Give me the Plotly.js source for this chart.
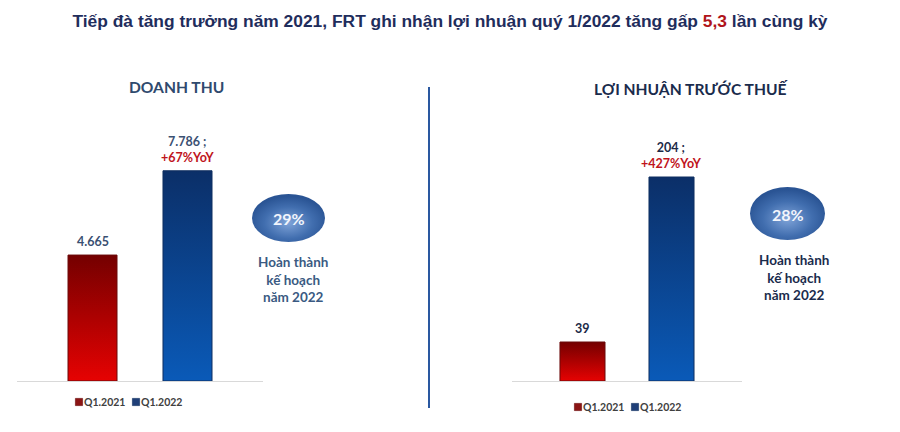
<!DOCTYPE html>
<html>
<head>
<meta charset="utf-8">
<script src="https://cdn.plot.ly/plotly-3.0.1.min.js"></script>
<style>
  html, body { margin: 0; padding: 0; background: #ffffff; }
  #chart { width: 900px; height: 432px; }
</style>
</head>
<body>
<div id="chart"></div>
<script>
// ---------- data ----------
const periods = ['Q1.2021', 'Q1.2022'];
const revenue = [4665, 7786];          // Doanh thu (tỷ đồng)
const profit = [39, 204];              // Lợi nhuận trước thuế (tỷ đồng)
const revenueYoY = ['', '+67%YoY'];
const profitYoY = ['', '+427%YoY'];
const planDone = [29, 28];             // % hoàn thành kế hoạch năm 2022
const chartTitles = ['DOANH THU', 'LỢI NHUẬN TRƯỚC THUẾ'];
const planText = 'Hoàn thành<br>kế hoạch<br>năm 2022';

// ---------- styling ----------
const RED = '#8b1414', BLUE = '#1f3f78';
const FONT = 'Lato, "Liberation Sans", sans-serif';

function fmt(v) {
  return String(v).replace(/\B(?=(\d{3})+(?!\d))/g, '.');
}

const traces = [];
[['x', 'y', 'legend', revenue, 0.516], ['x2', 'y2', 'legend2', profit, 0.506]].forEach(function (cfg) {
  periods.forEach(function (p, i) {
    traces.push({
      type: 'bar',
      x: [p],
      y: [cfg[3][i]],
      name: p,
      xaxis: cfg[0],
      yaxis: cfg[1],
      legend: cfg[2],
      width: cfg[4],
      marker: { color: i === 0 ? RED : BLUE, line: { color: i === 0 ? '#6a0a0a' : '#0f2f60', width: 1 } },
      hoverinfo: 'skip'
    });
  });
});

const annotations = [];
// value labels
[[revenue, revenueYoY, 'x', 'y', '#3a5072'], [profit, profitYoY, 'x2', 'y2', '#1c2a48']].forEach(function (cfg) {
  periods.forEach(function (p, i) {
    let t = fmt(cfg[0][i]);
    if (cfg[1][i]) t += ' ;<br><span style="color:#c0141c">' + cfg[1][i] + '</span>';
    annotations.push({
      xref: cfg[2], yref: cfg[3], x: p, y: cfg[0][i], xanchor: 'center',
      text: t, showarrow: false, yanchor: 'bottom', yshift: 4,
      font: { family: FONT, size: 12.5, color: cfg[4], weight: 'bold' }
    });
  });
});
function paperText(x, y, text, size, color) {
  annotations.push({ xref: 'paper', yref: 'paper', x: x, y: y, xanchor: 'center', yanchor: 'middle',
    text: text, showarrow: false, font: { family: FONT, size: size, color: color, weight: 'bold' } });
}
// chart titles
paperText(176 / 900, 1 - 86.7 / 432, chartTitles[0], 15.6, '#2f4a6e');
paperText(691.5 / 900, 1 - 89.3 / 432, chartTitles[1], 15.6, '#1a2b4c');
// plan completion badges
paperText(288.5 / 900, 1 - 218 / 432, planDone[0] + '%', 16, '#f2f5fc');
paperText(787.5 / 900, 1 - 214 / 432, planDone[1] + '%', 16, '#f2f5fc');
paperText(293 / 900, 1 - 279.3 / 432, planText, 13.5, '#3a5a82');
paperText(793.5 / 900, 1 - 277.3 / 432, planText, 13.5, '#1a2b4c');

const ELL = '#3a66a9';
const shapes = [
  { type: 'circle', xref: 'paper', yref: 'paper', x0: 252 / 900, x1: 325 / 900, y0: 1 - 242 / 432, y1: 1 - 194 / 432,
    fillcolor: ELL, line: { width: 0 }, layer: 'below' },
  { type: 'circle', xref: 'paper', yref: 'paper', x0: 750 / 900, x1: 825 / 900, y0: 1 - 240 / 432, y1: 1 - 187 / 432,
    fillcolor: ELL, line: { width: 0 }, layer: 'below' },
  { type: 'line', xref: 'paper', yref: 'paper', x0: 429 / 900, x1: 429 / 900, y0: 1 - 408 / 432, y1: 1 - 87 / 432,
    line: { color: '#2a58a0', width: 2 } }
];

const baseAxis = {
  type: 'category', showline: true, linecolor: '#d9d9d9', linewidth: 1,
  showticklabels: false, ticks: '', showgrid: false, zeroline: false, fixedrange: true
};
const baseY = { visible: false, showgrid: false, zeroline: false, fixedrange: true, domain: [1 - 381 / 432, 1 - 60 / 432] };
const legendBase = {
  orientation: 'h', xanchor: 'left', yanchor: 'middle', bgcolor: 'rgba(0,0,0,0)',
  font: { family: FONT, size: 10.5, color: '#404040', weight: 'bold' }, traceorder: 'normal',
  entrywidth: 12, entrywidthmode: 'pixels',
  itemclick: false, itemdoubleclick: false
};

const layout = {
  width: 900, height: 432,
  margin: { l: 0, r: 0, t: 0, b: 0 },
  paper_bgcolor: '#ffffff', plot_bgcolor: 'rgba(0,0,0,0)',
  barmode: 'overlay',
  title: {
    text: 'Tiếp đà tăng trưởng năm 2021, FRT ghi nhận lợi nhuận quý 1/2022 tăng gấp <span style="color:#b0141a">5,3</span> lần cùng kỳ',
    x: 0.5, xanchor: 'center', y: 1 - 21 / 432, yanchor: 'middle',
    font: { family: '"Liberation Sans", Arial, sans-serif', size: 17.4, color: '#1f2d5c', weight: 'bold' }
  },
  xaxis: Object.assign({}, baseAxis, { domain: [17 / 900, 263 / 900], range: [-0.795, 1.795], anchor: 'y' }),
  yaxis: Object.assign({}, baseY, { range: [0, 321 / 0.027], anchor: 'x' }),
  xaxis2: Object.assign({}, baseAxis, { domain: [512 / 900, 742 / 900], range: [-0.792, 1.792], anchor: 'y2' }),
  yaxis2: Object.assign({}, baseY, { range: [0, 321], anchor: 'x2' }),
  legend: Object.assign({}, legendBase, { x: 44 / 900, y: 1 - 402 / 432 }),
  legend2: Object.assign({}, legendBase, { x: 543 / 900, y: 1 - 407 / 432 }),
  showlegend: true,
  annotations: annotations,
  shapes: shapes
};

function addGradients(gd) {
  const svg = gd.querySelector('.main-svg');
  let defs = svg.querySelector('defs');
  const NS = 'http://www.w3.org/2000/svg';
  function stops(g, list) {
    list.forEach(function (s) {
      const st = document.createElementNS(NS, 'stop');
      st.setAttribute('offset', s[0]); st.setAttribute('stop-color', s[1]);
      g.appendChild(st);
    });
  }
  function lin(id, top, bottom) {
    const g = document.createElementNS(NS, 'linearGradient');
    g.setAttribute('id', id);
    g.setAttribute('x1', '0'); g.setAttribute('y1', '0'); g.setAttribute('x2', '0'); g.setAttribute('y2', '1');
    stops(g, [[0, top], [1, bottom]]);
    defs.appendChild(g);
  }
  lin('gradRed', '#740000', '#e60202');
  lin('gradBlue', '#0b2f68', '#0a5ab8');
  const rg = document.createElementNS(NS, 'radialGradient');
  rg.setAttribute('id', 'gradEll');
  rg.setAttribute('cx', '0.5'); rg.setAttribute('cy', '0.6'); rg.setAttribute('r', '0.55');
  stops(rg, [[0, '#7fa3d8'], [0.6, '#416eaf'], [1, '#2a5494']]);
  defs.appendChild(rg);

  const toRgb = function (hex) {
    const n = parseInt(hex.slice(1), 16);
    return 'rgb(' + (n >> 16 & 255) + ', ' + (n >> 8 & 255) + ', ' + (n & 255) + ')';
  };
  gd.querySelectorAll('.barlayer path').forEach(function (p) {
    if (p.style.fill === toRgb(RED)) p.style.fill = 'url(#gradRed)';
    else if (p.style.fill === toRgb(BLUE)) p.style.fill = 'url(#gradBlue)';
  });
  gd.querySelectorAll('.shapelayer path').forEach(function (p) {
    if (p.style.fill === toRgb(ELL)) p.style.fill = 'url(#gradEll)';
  });
  // compact legend symbols, and let the last legend label run past the narrow entry box
  gd.querySelectorAll('.legendpoints path').forEach(function (p) {
    p.setAttribute('transform', 'translate(35,0) scale(0.6)');
  });
  gd.querySelectorAll('.infolayer .scrollbox').forEach(function (s) {
    s.removeAttribute('clip-path');
  });
}

Plotly.newPlot('chart', traces, layout, { staticPlot: true, displayModeBar: false }).then(addGradients);
</script>
</body>
</html>
